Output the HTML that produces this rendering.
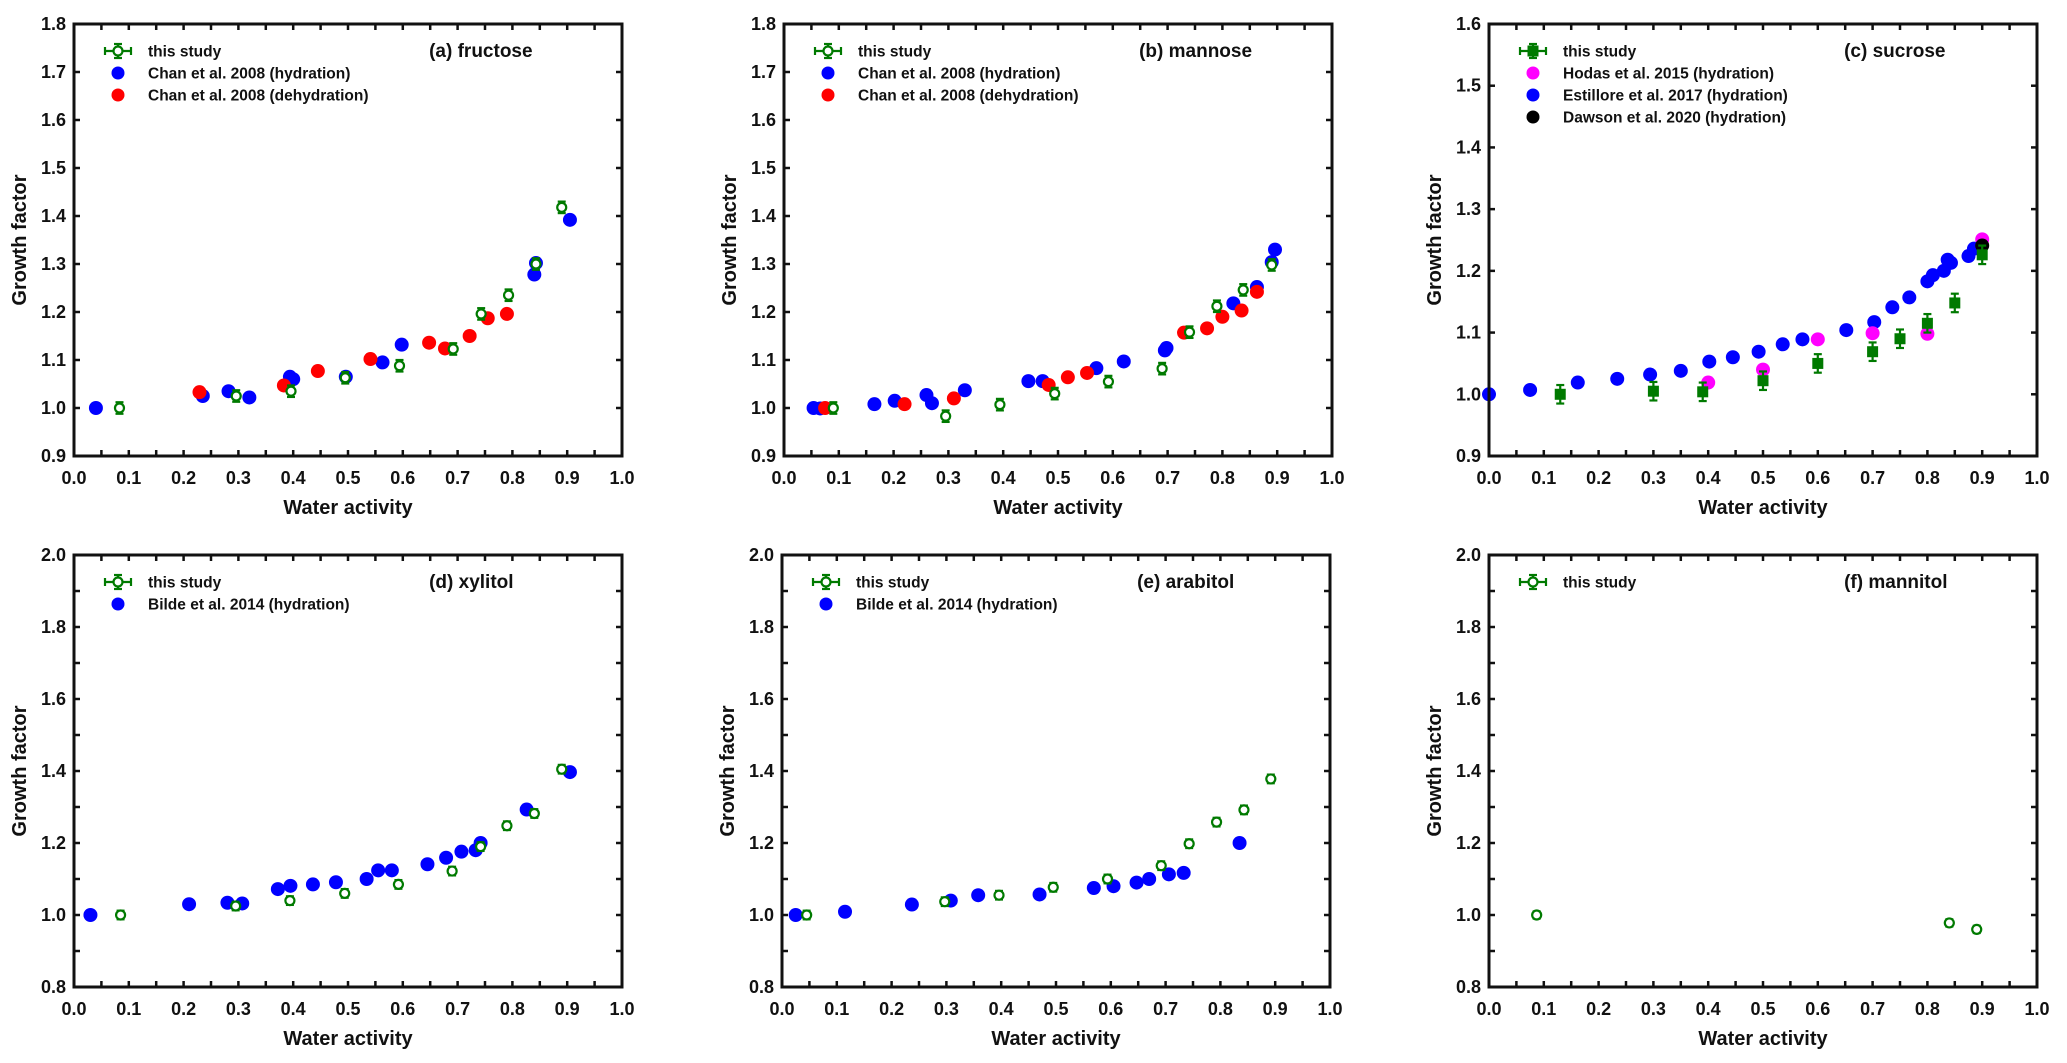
<!DOCTYPE html>
<html><head><meta charset="utf-8">
<style>
html,body{margin:0;padding:0;background:#fff;}
svg{display:block;font-family:"Liberation Sans",Arial,sans-serif;font-weight:bold;}
</style></head>
<body>
<svg id="fig" width="2067" height="1063" viewBox="0 0 2067 1063" xmlns="http://www.w3.org/2000/svg"></svg>
<script>
// ---- data (water activity, growth factor) ----
const aGreenX=[0.083,0.296,0.396,0.495,0.594,0.692,0.743,0.793,0.843,0.89];
const aGreenY=[1.0,1.025,1.035,1.063,1.088,1.123,1.196,1.235,1.30,1.418];
const aBlueX=[0.04,0.235,0.282,0.32,0.394,0.40,0.496,0.563,0.598,0.84,0.843,0.905];
const aBlueY=[1.0,1.025,1.035,1.022,1.065,1.06,1.065,1.095,1.132,1.278,1.302,1.392];
const aRedX=[0.229,0.383,0.445,0.541,0.648,0.677,0.722,0.755,0.79];
const aRedY=[1.033,1.047,1.077,1.102,1.136,1.124,1.15,1.187,1.196];

const bGreenX=[0.09,0.295,0.394,0.494,0.592,0.69,0.74,0.79,0.838,0.89];
const bGreenY=[1.0,0.983,1.007,1.03,1.055,1.082,1.158,1.212,1.246,1.298];
const bBlueX=[0.054,0.066,0.165,0.202,0.26,0.27,0.33,0.446,0.472,0.57,0.62,0.695,0.698,0.82,0.863,0.89,0.896];
const bBlueY=[1.0,0.999,1.008,1.015,1.027,1.01,1.037,1.056,1.056,1.083,1.097,1.12,1.125,1.218,1.252,1.304,1.33];
const bRedX=[0.075,0.22,0.31,0.483,0.518,0.553,0.73,0.772,0.8,0.835,0.863];
const bRedY=[1.0,1.008,1.02,1.048,1.064,1.073,1.157,1.166,1.19,1.203,1.242];

const cGreenX=[0.13,0.3,0.39,0.5,0.6,0.7,0.75,0.8,0.85,0.9];
const cGreenY=[1.0,1.005,1.004,1.022,1.05,1.069,1.09,1.115,1.148,1.226];
const cMagX=[0.4,0.5,0.6,0.7,0.8,0.9];
const cMagY=[1.019,1.04,1.089,1.099,1.098,1.251];
const cBlueX=[0,0.075,0.162,0.234,0.294,0.35,0.402,0.445,0.492,0.536,0.572,0.652,0.703,0.736,0.767,0.8,0.81,0.83,0.837,0.843,0.875,0.885];
const cBlueY=[1.0,1.007,1.019,1.025,1.032,1.038,1.053,1.06,1.069,1.081,1.089,1.104,1.117,1.141,1.157,1.183,1.193,1.2,1.218,1.213,1.224,1.236];
const cBlackX=[0.9];
const cBlackY=[1.241];

const dGreenX=[0.085,0.295,0.394,0.494,0.592,0.69,0.742,0.79,0.84,0.89];
const dGreenY=[1.0,1.025,1.04,1.06,1.085,1.122,1.19,1.248,1.282,1.405];
const dBlueX=[0.03,0.21,0.28,0.307,0.372,0.395,0.436,0.478,0.534,0.555,0.58,0.645,0.679,0.707,0.733,0.742,0.826,0.905];
const dBlueY=[1.0,1.03,1.034,1.032,1.072,1.081,1.085,1.091,1.1,1.124,1.124,1.141,1.159,1.176,1.18,1.2,1.293,1.397];

const eGreenX=[0.045,0.297,0.396,0.495,0.594,0.692,0.743,0.793,0.843,0.892];
const eGreenY=[1.0,1.037,1.055,1.077,1.1,1.137,1.198,1.258,1.292,1.378];
const eBlueX=[0.025,0.115,0.237,0.308,0.358,0.47,0.569,0.605,0.647,0.67,0.706,0.733,0.835];
const eBlueY=[1.0,1.009,1.029,1.04,1.055,1.057,1.075,1.08,1.09,1.1,1.113,1.117,1.2];

const fGreenX=[0.087,0.84,0.89];
const fGreenY=[1.0,0.978,0.96];

const xTickLabels=["0.0","0.1","0.2","0.3","0.4","0.5","0.6","0.7","0.8","0.9","1.0"];

const NS="http://www.w3.org/2000/svg";
const svg=document.getElementById('fig');
function mk(tag,attrs,parent){const e=document.createElementNS(NS,tag);for(const k in attrs)e.setAttribute(k,attrs[k]);(parent||svg).appendChild(e);return e;}

const W=548,H=432;
const panels=[
 {id:'a',x0:74,y0:24,ymin:0.9,ymax:1.8,ystep:0.1,ylab:0.1,title:'(a) fructose',err:0.012,filled:false,
  series:[{x:aBlueX,y:aBlueY,c:'#0000ff',n:'chan-hydration'},{x:aRedX,y:aRedY,c:'#ff0000',n:'chan-dehydration'}],
  legend:[['this study','green'],['Chan et al. 2008 (hydration)','#0000ff'],['Chan et al. 2008 (dehydration)','#ff0000']],gx:aGreenX,gy:aGreenY},
 {id:'b',x0:784,y0:24,ymin:0.9,ymax:1.8,ystep:0.1,ylab:0.1,title:'(b) mannose',err:0.012,filled:false,
  series:[{x:bBlueX,y:bBlueY,c:'#0000ff',n:'chan-hydration'},{x:bRedX,y:bRedY,c:'#ff0000',n:'chan-dehydration'}],
  legend:[['this study','green'],['Chan et al. 2008 (hydration)','#0000ff'],['Chan et al. 2008 (dehydration)','#ff0000']],gx:bGreenX,gy:bGreenY},
 {id:'c',x0:1489,y0:24,ymin:0.9,ymax:1.6,ystep:0.1,ylab:0.1,title:'(c) sucrose',err:0.015,filled:true,
  series:[{x:cBlueX,y:cBlueY,c:'#0000ff',n:'estillore'},{x:cMagX,y:cMagY,c:'#ff00ff',n:'hodas'},{x:cBlackX,y:cBlackY,c:'#000000',n:'dawson'}],
  legend:[['this study','green'],['Hodas et al. 2015 (hydration)','#ff00ff'],['Estillore et al. 2017 (hydration)','#0000ff'],['Dawson et al. 2020 (hydration)','#000000']],gx:cGreenX,gy:cGreenY},
 {id:'d',x0:74,y0:555,ymin:0.8,ymax:2.0,ystep:0.1,ylab:0.2,title:'(d) xylitol',err:0.012,filled:false,
  series:[{x:dBlueX,y:dBlueY,c:'#0000ff',n:'bilde-hydration'}],
  legend:[['this study','green'],['Bilde et al. 2014 (hydration)','#0000ff']],gx:dGreenX,gy:dGreenY},
 {id:'e',x0:782,y0:555,ymin:0.8,ymax:2.0,ystep:0.1,ylab:0.2,title:'(e) arabitol',err:0.012,filled:false,
  series:[{x:eBlueX,y:eBlueY,c:'#0000ff',n:'bilde-hydration'}],
  legend:[['this study','green'],['Bilde et al. 2014 (hydration)','#0000ff']],gx:eGreenX,gy:eGreenY},
 {id:'f',x0:1489,y0:555,ymin:0.8,ymax:2.0,ystep:0.1,ylab:0.2,title:'(f) mannitol',err:0.01,filled:false,
  series:[],legend:[['this study','green']],gx:fGreenX,gy:fGreenY}
];

function greenMarker(g,cx,cy,ePx,filled,legend){
  const col='#007a00';
  mk('line',{x1:cx,y1:cy-ePx,x2:cx,y2:cy+ePx,stroke:col,'stroke-width':2.2},g);
  mk('line',{x1:cx-4,y1:cy-ePx,x2:cx+4,y2:cy-ePx,stroke:col,'stroke-width':2.2},g);
  mk('line',{x1:cx-4,y1:cy+ePx,x2:cx+4,y2:cy+ePx,stroke:col,'stroke-width':2.2},g);
  if(legend){
    mk('line',{x1:cx-13,y1:cy,x2:cx+13,y2:cy,stroke:col,'stroke-width':2.2},g);
    mk('line',{x1:cx-13,y1:cy-4,x2:cx-13,y2:cy+4,stroke:col,'stroke-width':2.2},g);
    mk('line',{x1:cx+13,y1:cy-4,x2:cx+13,y2:cy+4,stroke:col,'stroke-width':2.2},g);
  }
  if(filled){
    mk('rect',{x:cx-5.5,y:cy-5.5,width:11,height:11,fill:col},g);
  } else {
    mk('circle',{cx:cx,cy:cy,r:4.5,fill:'#fff',stroke:col,'stroke-width':2.2},g);
  }
}

panels.forEach(p=>{
  const g=mk('g',{});
  
  
  const sx=v=>p.x0+v*W;
  const sy=v=>p.y0+H-(v-p.ymin)/(p.ymax-p.ymin)*H;
  // ticks
  const tg=mk('g',{stroke:'#111','stroke-width':2.5},g);
  
  
  for(let i=0;i<=20;i++){const x=sx(i*0.05);
    mk('line',{x1:x,y1:p.y0+H,x2:x,y2:p.y0+H-6},tg);
    mk('line',{x1:x,y1:p.y0,x2:x,y2:p.y0+6},tg);}
  const ny=Math.round((p.ymax-p.ymin)/p.ystep);
  for(let i=0;i<=ny;i++){const y=sy(p.ymin+i*p.ystep);
    mk('line',{x1:p.x0,y1:y,x2:p.x0+6,y2:y},tg);
    mk('line',{x1:p.x0+W,y1:y,x2:p.x0+W-6,y2:y},tg);}
  // tick labels
  xTickLabels.forEach((t,i)=>{
    const tx=mk('text',{x:sx(i*0.1),y:p.y0+H+28,'text-anchor':'middle','font-size':18,fill:'#111'},g);
    tx.textContent=t;
    
    
  });
  const nl=Math.round((p.ymax-p.ymin)/p.ylab);
  for(let i=0;i<=nl;i++){const v=p.ymin+i*p.ylab;
    const ty=mk('text',{x:p.x0-8,y:sy(v)+6,'text-anchor':'end','font-size':18,fill:'#111'},g);
    ty.textContent=v.toFixed(1);
    
    
  }
  const xt=mk('text',{x:p.x0+W/2,y:p.y0+H+58,'text-anchor':'middle','font-size':20,fill:'#111'},g);
  xt.textContent='Water activity';
  
  
  const yc=p.y0+H/2;
  const yt=mk('text',{x:p.x0-48,y:yc,'text-anchor':'middle','font-size':20,fill:'#111',transform:`rotate(-90 ${p.x0-48} ${yc})`},g);
  yt.textContent='Growth factor';
  
  
  const tt=mk('text',{x:p.x0+W*0.648,y:p.y0+33,'font-size':19,fill:'#111'},g);
  tt.textContent=p.title;
  
  
  // literature series
  p.series.forEach(s=>{
    const sg=mk('g',{},g);
    
    
    s.x.forEach((xv,i)=>{
      const c=mk('circle',{cx:sx(xv),cy:sy(s.y[i]),r:7,fill:s.c},sg);
      
      
    });
  });
  // this study
  const gg=mk('g',{},g);
  
  
  const ePx=p.err/(p.ymax-p.ymin)*H;
  p.gx.forEach((xv,i)=>greenMarker(gg,sx(xv),sy(p.gy[i]),ePx,p.filled,false));
  // legend
  const lg=mk('g',{},g);
  
  
  p.legend.forEach((L,i)=>{
    const ly=p.y0+27+i*22;
    const mx=p.x0+44;
    if(L[1]==='green') greenMarker(lg,mx,ly,7,p.filled,true);
    else mk('circle',{cx:mx,cy:ly,r:6.5,fill:L[1]},lg);
    const t=mk('text',{x:p.x0+74,y:ly+5.5,'font-size':15.5,fill:'#111'},lg);
    t.textContent=L[0];
    
    
  });
  // frame
  const fr=mk('rect',{x:p.x0,y:p.y0,width:W,height:H,fill:'none',stroke:'#111','stroke-width':3},g);
  
  
});
</script>
</body></html>
